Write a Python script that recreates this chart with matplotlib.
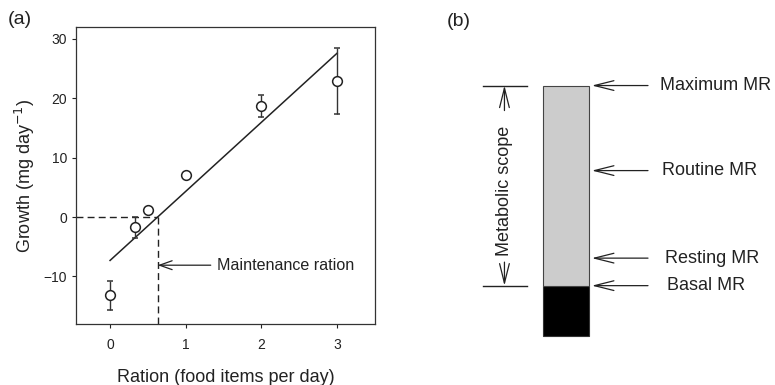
import matplotlib.pyplot as plt

plt.rcParams['font.family'] = ['Liberation Sans', 'DejaVu Sans']

# panel (a) data
ration = [0, 0.33, 0.5, 1, 2, 3]
growth = [-13.2, -1.75, 1.2, 7.0, 18.7, 22.9]
growth_err = [2.5, 1.7, 0.4, 0.4, 1.9, 5.6]
fit_x = [0, 3]
fit_y = [-7.3, 27.6]
maint_ration = 0.63

# panel (b) data (arbitrary units)
mr_labels = ['Maximum MR', 'Routine MR', 'Resting MR', 'Basal MR']
mr_levels = [5.0, 3.3, 1.55, 1.0]
mr_text_x = [2.05, 2.1, 2.15, 2.2]

txt = '#222222'
fig = plt.figure(figsize=(7.75, 3.85), dpi=100)

# ---- (a)
ax = fig.add_axes([76/775, 61/385, 299/775, 297/385])
ax.errorbar(ration, growth, yerr=growth_err, fmt='o', ms=7, mfc='white',
            mec='#222222', mew=1.1, ecolor='#333333', elinewidth=1,
            capsize=2.5, capthick=1, zorder=3)
ax.plot(fit_x, fit_y, color='#222222', lw=1.1, zorder=2)
ax.plot([-0.45, maint_ration], [0, 0], color='#222222', lw=1, ls=(0, (5, 3)))
ax.plot([maint_ration, maint_ration], [-18, 0], color='#222222', lw=1, ls=(0, (5, 3)))
ax.annotate('', xy=(maint_ration, -8.1), xytext=(1.33, -8.1),
            arrowprops=dict(arrowstyle='->,head_length=0.9,head_width=0.32',
                            color='#222222', lw=0.9, shrinkA=0, shrinkB=0))
ax.text(1.41, -8.1, 'Maintenance ration', fontsize=11.6, va='center', color=txt)
ax.set_xlim(-0.45, 3.5)
ax.set_ylim(-18, 32)
ax.set_xticks([0, 1, 2, 3])
ax.set_yticks([-10, 0, 10, 20, 30])
ax.tick_params(direction='out', length=3, width=0.8, labelsize=10, colors=txt)
ax.tick_params(axis='x', pad=7)
for s in ax.spines.values():
    s.set_linewidth(0.9)
    s.set_color('#333333')
ax.set_xlabel('Ration (food items per day)', fontsize=13, color=txt, labelpad=12)
ax.set_ylabel('Growth (mg day$^{-1}$)', fontsize=13, color=txt, labelpad=5)
fig.text(8/775, 1 - 20/385, '(a)', fontsize=14, va='center', color=txt)

# ---- (b)
bx = fig.add_axes([400/775, 0, 375/775, 1])
bx.set_xlim(-3.6, 4.55)
bx.set_ylim(-0.986, 6.71)
bx.axis('off')
basal = mr_levels[3]
top = mr_levels[0]
bx.bar(0, basal, width=1, bottom=0, color='black', edgecolor='#333333', lw=0.8)
bx.bar(0, top - basal, width=1, bottom=basal, color='#cccccc', edgecolor='#444444', lw=0.8)

# metabolic scope bracket
for lv in [top, basal]:
    bx.plot([-1.8, -0.85], [lv, lv], color='#222222', lw=1)
arr = dict(arrowstyle='->,head_length=1.4,head_width=0.35', color='#222222', lw=0.9,
           shrinkA=0, shrinkB=0)
bx.annotate('', xy=(-1.33, top), xytext=(-1.33, 4.5), arrowprops=arr)
bx.annotate('', xy=(-1.33, basal), xytext=(-1.33, 1.47), arrowprops=arr)
bx.text(-1.33, 2.9, 'Metabolic scope', rotation=90, fontsize=13, ha='center',
        va='center', color=txt)

for lab, lv, tx in zip(mr_labels, mr_levels, mr_text_x):
    bx.annotate('', xy=(0.57, lv), xytext=(1.79, lv), arrowprops=arr)
    bx.text(tx, lv, lab, fontsize=13, va='center', color=txt)

fig.text(447/775, 1 - 22/385, '(b)', fontsize=14, va='center', color=txt)

plt.savefig('out.png', dpi=100)
